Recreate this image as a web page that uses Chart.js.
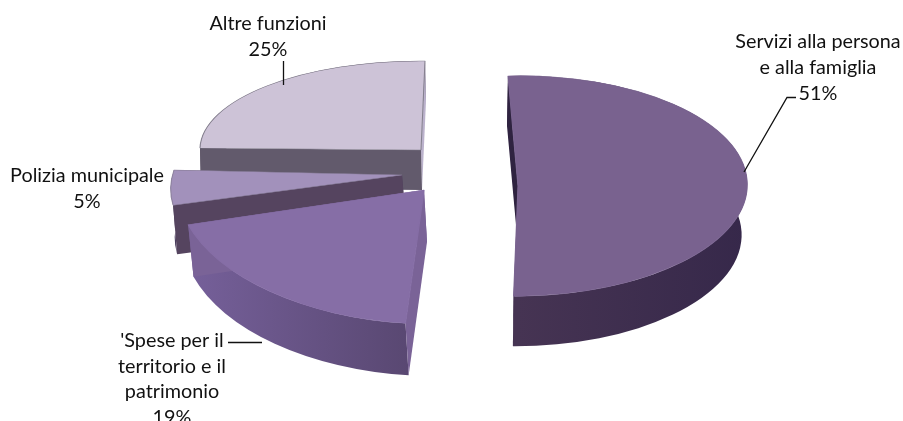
<!DOCTYPE html>
<html>
<head>
<meta charset="utf-8">
<title>Spese per funzione</title>
<script src="https://cdn.jsdelivr.net/npm/chart.js@4"></script>
<style>
  html, body { margin: 0; padding: 0; background: #fff; overflow: hidden; }
  canvas { display: block; }
</style>
</head>
<body>
<canvas id="myChart" width="903" height="421"></canvas>
<script>
// ------>chart data<------
const categories = ["Servizi alla persona\ne alla famiglia", "'Spese per il\nterritorio e il\npatrimonio", "Polizia municipale", "Altre funzioni"];
const values = [51, 19, 5, 25];

// ------>colours of every slice: top, rim gradient, cut walls<------
const topColors = ["#79628f", "#866ea6", "#a291bb", "#cdc3d7"];
const edgeColors = ["#7b6591", "#866ea6", "#8f84a0", "#85808f"];
const rimColors = [["#463453", "#36284a"], ["#57466f", "#77619c"], ["#4a3d5e", "#4a3d5e"], ["#5f5768", "#5f5768"]];
const wallColors = [["#2f2340", "#453352"], ["#7a6397", "#7a6397"], ["#55445f", "#4c3f5c"], ["#625a6c", "#bbb2cc"]];

// ------>how each exploded slice is laid on the floor (tilted pie)<------
const sliceViews = [
    { apex: [518, 186], u: [229, -6], v: [10, 110], depth: [-1, 50], rimScale: 0.98 },
    { apex: [424, 190], u: [247, 7], v: [-3, 134], depth: [3, 52], rimScale: 0.99 },
    { apex: [402, 175], u: [228, 5], v: [-39, 113], depth: [4, 49], rimScale: 1 },
    { apex: [421, 150], u: [221, 2], v: [-4, 89], depth: [1, 40], rimScale: 1 }
];
const drawOrder = [3, 2, 1, 0];

// ------>labels and leader lines<------
const labelCenters = [[818, 42], [172, 340.5], [87, 176], [268, 24]];
const lineHeight = 25.7;
const leaderLines = [
    [[796, 97.5], [787, 97.5], [744, 172]],
    [[228, 342.5], [262, 342.5]],
    [],
    [[283.5, 61], [283.5, 85]]
];

function placeSlice(ctx, base, el, view, lowered) {
    const r = el.outerRadius;
    const shift = lowered ? view.depth : [0, 0];
    const k = lowered ? view.rimScale : 1;
    ctx.setTransform(base);
    ctx.translate(view.apex[0] + shift[0], view.apex[1] + shift[1]);
    ctx.transform(k * view.u[0] / r, k * view.u[1] / r, view.v[0] / r, view.v[1] / r, 0, 0);
    ctx.translate(-el.x, -el.y);
}

function drawWall(ctx, base, el, view, angle, color) {
    const r = el.outerRadius;
    ctx.beginPath();
    placeSlice(ctx, base, el, view, false);
    ctx.moveTo(el.x, el.y);
    ctx.lineTo(el.x + r * Math.cos(angle), el.y + r * Math.sin(angle));
    placeSlice(ctx, base, el, view, true);
    ctx.lineTo(el.x + r * Math.cos(angle), el.y + r * Math.sin(angle));
    ctx.lineTo(el.x, el.y);
    ctx.closePath();
    ctx.setTransform(base);
    ctx.fillStyle = color;
    ctx.fill();
}

function drawRim(ctx, base, el, view, colors) {
    const r = el.outerRadius;
    ctx.beginPath();
    placeSlice(ctx, base, el, view, false);
    ctx.arc(el.x, el.y, r, el.startAngle, el.endAngle);
    placeSlice(ctx, base, el, view, true);
    ctx.arc(el.x, el.y, r, el.endAngle, el.startAngle, true);
    ctx.closePath();
    ctx.setTransform(base);
    const left = view.apex[0] - Math.abs(view.u[0]);
    const right = view.apex[0] + Math.abs(view.u[0]);
    const xs = el.startAngle < -Math.PI / 2 + Math.PI ? [view.apex[0], right] : [left, view.apex[0]];
    const grad = ctx.createLinearGradient(xs[0], 0, xs[1], 0);
    if (xs[0] === left) {
        grad.addColorStop(0, colors[1]);
        grad.addColorStop(1, colors[0]);
    } else {
        grad.addColorStop(0, colors[0]);
        grad.addColorStop(1, colors[1]);
    }
    ctx.fillStyle = grad;
    ctx.fill();
}

// the library lays out the arcs, this plugin tilts and extrudes them
const tiltedPie = {
    id: "tiltedPie",
    beforeDatasetsDraw(chart) {
        const ctx = chart.ctx;
        const arcs = chart.getDatasetMeta(0).data;
        ctx.save();
        const base = ctx.getTransform();
        for (const i of drawOrder) {
            const el = arcs[i];
            const view = sliceViews[i];
            drawRim(ctx, base, el, view, rimColors[i]);
            drawWall(ctx, base, el, view, el.endAngle, wallColors[i][1]);
            drawWall(ctx, base, el, view, el.startAngle, wallColors[i][0]);
            placeSlice(ctx, base, el, view, false);
            el.draw(ctx);
            ctx.setTransform(base);
        }
        ctx.restore();
        return false;
    },
    afterDraw(chart) {
        const ctx = chart.ctx;
        ctx.save();
        ctx.strokeStyle = "#111";
        ctx.lineWidth = 1.3;
        for (const line of leaderLines) {
            if (!line.length) continue;
            ctx.beginPath();
            line.forEach((p, n) => n ? ctx.lineTo(p[0], p[1]) : ctx.moveTo(p[0], p[1]));
            ctx.stroke();
        }
        ctx.fillStyle = "#111";
        ctx.font = "19.8px Lato";
        ctx.textAlign = "center";
        ctx.textBaseline = "middle";
        categories.forEach((name, i) => {
            const rows = name.split("\n").concat(values[i] + "%");
            rows.forEach((row, n) => {
                ctx.fillText(row, labelCenters[i][0], labelCenters[i][1] + n * lineHeight);
            });
        });
        ctx.restore();
    }
};

new Chart(document.getElementById("myChart").getContext("2d"), {
    type: "pie",
    data: {
        labels: categories,
        datasets: [{
            data: values,
            backgroundColor: topColors,
            borderColor: edgeColors,
            borderWidth: 1
        }]
    },
    options: {
        responsive: false,
        animation: false,
        devicePixelRatio: 1,
        plugins: { legend: { display: false }, tooltip: { enabled: false } }
    },
    plugins: [tiltedPie]
});
</script>
</body>
</html>
